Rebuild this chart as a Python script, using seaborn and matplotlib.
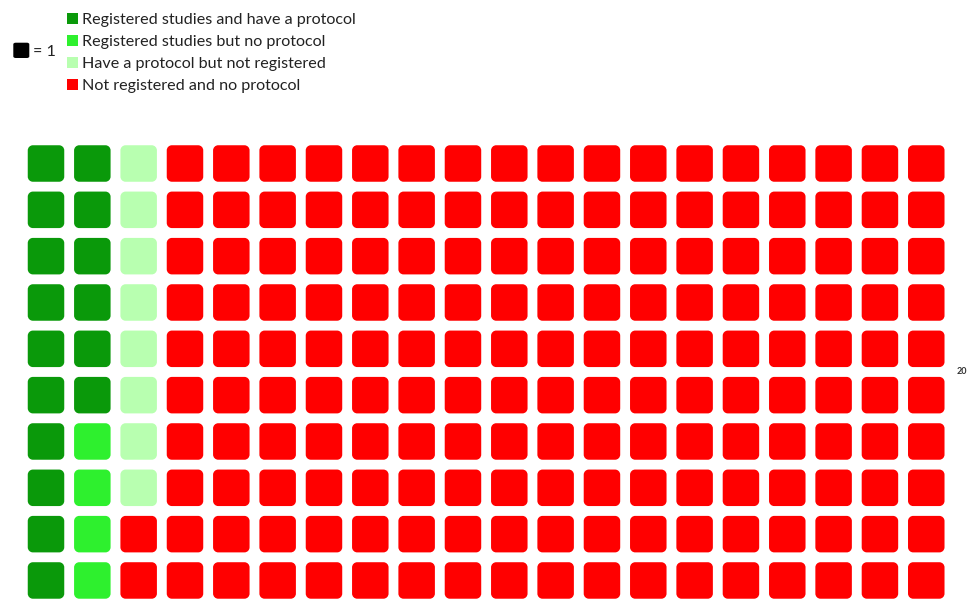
import numpy as np
import pandas as pd
import matplotlib
matplotlib.use("Agg")
import matplotlib.pyplot as plt
import seaborn as sns
from matplotlib.path import Path
from matplotlib.patches import FancyBboxPatch

categories = ["Registered studies and have a protocol",
              "Registered studies but no protocol",
              "Have a protocol but not registered",
              "Not registered and no protocol"]
counts = [16, 4, 8, 172]
colors = ["#0A990A", "#2EF02E", "#B8FFB0", "#FF0000"]
n_rows = 10
n_cols = 20
unit_label = "= 1"
side_label = "20"

sns.set_theme(style="white")
plt.rcParams['font.family'] = ['Lato', 'DejaVu Sans']

# build cells column-major
cells = []
k = 0
for cat, c in zip(categories, counts):
    for _ in range(c):
        cells.append({"col": k // n_rows, "row": k % n_rows, "category": cat})
        k += 1
df = pd.DataFrame(cells)

# rounded square marker
def rounded_square(r=0.28):
    kappa = 0.5523 * r
    a = 1.0
    verts = [
        (-a + r, -a), (a - r, -a),
        (a - r + kappa, -a), (a, -a + r - kappa), (a, -a + r),
        (a, a - r),
        (a, a - r + kappa), (a - r + kappa, a), (a - r, a),
        (-a + r, a),
        (-a + r - kappa, a), (-a, a - r + kappa), (-a, a - r),
        (-a, -a + r),
        (-a, -a + r - kappa), (-a + r - kappa, -a), (-a + r, -a),
        (-a + r, -a),
    ]
    codes = ([Path.MOVETO, Path.LINETO] + [Path.CURVE4] * 3 + [Path.LINETO]
             + [Path.CURVE4] * 3 + [Path.LINETO] + [Path.CURVE4] * 3
             + [Path.LINETO] + [Path.CURVE4] * 3 + [Path.CLOSEPOLY])
    return Path(verts, codes)

W, H = 968, 600
dpi = 100
fig = plt.figure(figsize=(W / dpi, H / dpi), dpi=dpi)
pitch = 46.33
x0c, y0c = 46.0, 163.5
left = x0c - pitch / 2
right = x0c + (n_cols - 0.5) * pitch
top = y0c - pitch / 2
bottom = y0c + (n_rows - 0.5) * pitch
ax = fig.add_axes([left / W, 1 - bottom / H, (right - left) / W, (bottom - top) / H])

marker = rounded_square()
size_pt = 36.5 * 72 / dpi
sns.scatterplot(data=df, x="col", y="row", hue="category", hue_order=categories,
                palette=colors, marker=marker, s=size_pt ** 2, linewidth=0,
                legend=False, ax=ax, clip_on=False)
ax.set_xlim(-0.5, n_cols - 0.5)
ax.set_ylim(n_rows - 0.5, -0.5)
ax.set_axis_off()

# legend
def px_box(x, y, w, h, color, rad):
    p = FancyBboxPatch((x / W, 1 - (y + h) / H), w / W, h / H,
                       boxstyle=f"round,pad=0,rounding_size={rad / W}",
                       transform=fig.transFigure, facecolor=color, edgecolor="none")
    fig.add_artist(p)

for i, (cat, col) in enumerate(zip(categories, colors)):
    yc = 18.3 + 22.1 * i
    fig.add_artist(plt.Rectangle((66.8 / W, 1 - (yc + 5.4) / H), 10.8 / W, 10.8 / H,
                                 transform=fig.transFigure, facecolor=col, edgecolor="none"))
    fig.text(82 / W, 1 - yc / H, cat, fontsize=11.6, color="#222222",
             ha="left", va="center_baseline")

px_box(13.3, 42.7, 16, 15.3, "#000000", 2.5)
fig.text(33 / W, 1 - 50.8 / H, unit_label, fontsize=11.6, color="#222222",
         ha="left", va="center_baseline")
fig.text(957 / W, 1 - 372 / H, side_label, fontsize=6.5, fontweight="bold",
         color="#333333", ha="left", va="center")

fig.savefig("out.png", dpi=dpi)
